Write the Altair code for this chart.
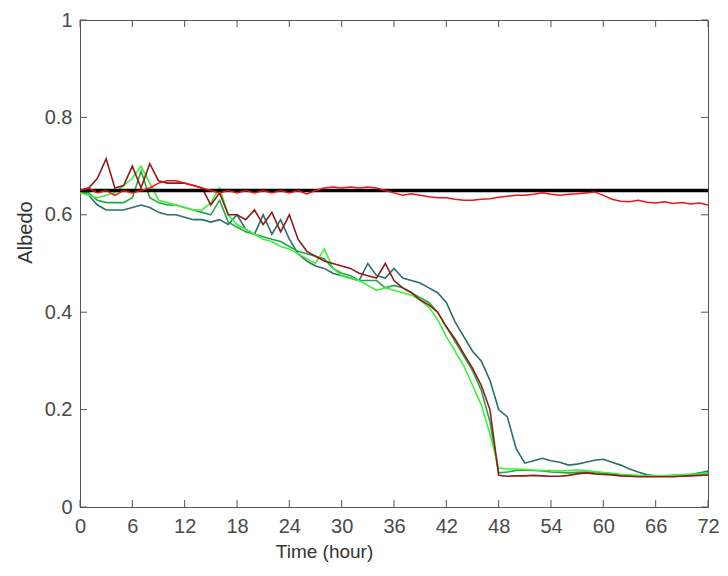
import altair as alt
import pandas as pd

hours = list(range(73))

teal = [0.65, 0.64, 0.62, 0.61, 0.61, 0.61, 0.615, 0.62, 0.615, 0.605,
        0.60, 0.60, 0.595, 0.59, 0.59, 0.585, 0.59, 0.58, 0.60, 0.57,
        0.56, 0.60, 0.56, 0.59, 0.55, 0.52, 0.505, 0.495, 0.49, 0.48,
        0.475, 0.47, 0.465, 0.50, 0.475, 0.47, 0.49, 0.47, 0.465, 0.46,
        0.45, 0.44, 0.42, 0.38, 0.35, 0.32, 0.30, 0.26, 0.20, 0.185,
        0.12, 0.09, 0.095, 0.10, 0.095, 0.092, 0.086, 0.088, 0.092, 0.096,
        0.098, 0.092, 0.086, 0.078, 0.072, 0.066, 0.064, 0.063, 0.063, 0.064,
        0.066, 0.07, 0.074]

green = [0.65, 0.645, 0.63, 0.625, 0.625, 0.625, 0.635, 0.69, 0.635, 0.625,
         0.62, 0.62, 0.615, 0.61, 0.605, 0.60, 0.63, 0.585, 0.575, 0.565,
         0.56, 0.555, 0.55, 0.545, 0.535, 0.525, 0.52, 0.515, 0.51, 0.49,
         0.48, 0.475, 0.465, 0.465, 0.465, 0.45, 0.455, 0.45, 0.44, 0.43,
         0.42, 0.40, 0.37, 0.34, 0.31, 0.28, 0.24, 0.175, 0.07, 0.072,
         0.075, 0.076, 0.075, 0.074, 0.072, 0.071, 0.07, 0.071, 0.072, 0.071,
         0.07, 0.068, 0.066, 0.065, 0.064, 0.064, 0.064, 0.064, 0.065, 0.066,
         0.067, 0.069, 0.071]

lime = [0.645, 0.64, 0.635, 0.64, 0.645, 0.66, 0.675, 0.70, 0.665, 0.63,
        0.625, 0.62, 0.615, 0.61, 0.61, 0.625, 0.655, 0.60, 0.58, 0.57,
        0.56, 0.55, 0.545, 0.535, 0.53, 0.52, 0.51, 0.50, 0.53, 0.49,
        0.475, 0.47, 0.465, 0.455, 0.445, 0.45, 0.445, 0.44, 0.435, 0.425,
        0.41, 0.385, 0.35, 0.32, 0.29, 0.25, 0.21, 0.15, 0.08, 0.078,
        0.078, 0.077, 0.076, 0.075, 0.075, 0.074, 0.075, 0.076, 0.075, 0.073,
        0.071, 0.069, 0.067, 0.066, 0.065, 0.064, 0.064, 0.064, 0.065, 0.066,
        0.067, 0.068, 0.07]

maroon = [0.65, 0.655, 0.675, 0.715, 0.655, 0.66, 0.70, 0.655, 0.705, 0.67,
          0.665, 0.665, 0.665, 0.66, 0.655, 0.62, 0.645, 0.60, 0.60, 0.59,
          0.61, 0.58, 0.605, 0.565, 0.60, 0.55, 0.525, 0.515, 0.505, 0.50,
          0.495, 0.49, 0.48, 0.475, 0.47, 0.50, 0.465, 0.45, 0.44, 0.425,
          0.415, 0.40, 0.37, 0.345, 0.315, 0.285, 0.25, 0.20, 0.065, 0.063,
          0.064, 0.064, 0.065, 0.064, 0.063, 0.063, 0.065, 0.068, 0.07, 0.068,
          0.067, 0.066, 0.064, 0.063, 0.062, 0.062, 0.062, 0.062, 0.062, 0.063,
          0.064, 0.065, 0.066]

red = [0.65, 0.655, 0.645, 0.65, 0.64, 0.65, 0.645, 0.65, 0.655, 0.665,
       0.67, 0.67, 0.665, 0.66, 0.655, 0.65, 0.645, 0.65, 0.645, 0.65,
       0.645, 0.65, 0.645, 0.65, 0.645, 0.65, 0.643, 0.65, 0.655, 0.657,
       0.655, 0.657, 0.655, 0.657, 0.655, 0.65, 0.645, 0.64, 0.643, 0.64,
       0.637, 0.635, 0.635, 0.632, 0.63, 0.63, 0.632, 0.633, 0.636, 0.638,
       0.64, 0.64, 0.642, 0.645, 0.642, 0.64, 0.642, 0.643, 0.645, 0.647,
       0.64, 0.632, 0.628, 0.627, 0.63, 0.626, 0.624, 0.627, 0.623, 0.625,
       0.622, 0.624, 0.62]

black_t = [0, 72]
black_v = [0.65, 0.65]

x_ticks = list(range(0, 73, 6))
y_ticks = [0, 0.2, 0.4, 0.6, 0.8, 1]

W, H = 628, 487
FONT = "Liberation Sans"

x_scale = alt.Scale(domain=[0, 72], nice=False, zero=False)
y_scale = alt.Scale(domain=[0, 1], nice=False, zero=False)

x_axis = alt.Axis(values=x_ticks, title="Time (hour)", labelFlush=False,
                  labelOverlap=False, grid=False, ticks=False,
                  labelPadding=9, titlePadding=6, titleX=244, titleFontSize=19)
y_axis = alt.Axis(values=y_ticks, title="Albedo", labelFlush=False,
                  labelOverlap=False, grid=False, ticks=False,
                  labelPadding=8, titlePadding=9, titleY=212, titleFontSize=20,
                  labelExpr="datum.value == 0 || datum.value == 1 ? format(datum.value, 'd') : format(datum.value, '.1f')")


def X():
    return alt.X("t:Q", scale=x_scale, axis=x_axis)


def Y():
    return alt.Y("v:Q", scale=y_scale, axis=y_axis)


def line(times, vals, color, width):
    df = pd.DataFrame({"t": times, "v": vals})
    return alt.Chart(df).mark_line(color=color, strokeWidth=width, clip=True).encode(
        x=X(), y=Y()
    )


layers = [
    line(hours, teal, "#2a6f6a", 1.6),
    line(hours, green, "#22a843", 1.6),
    line(hours, lime, "#3ff03a", 1.6),
    line(hours, maroon, "#8e1c1c", 1.6),
    line(black_t, black_v, "#000000", 3.5),
    line(hours, red, "#ee1414", 1.5),
]

xt = pd.DataFrame({"t": x_ticks})
yt = pd.DataFrame({"v": y_ticks})
tick_color = "#555555"
layers += [
    alt.Chart(xt).mark_rule(color=tick_color, strokeWidth=1).encode(
        x=X(), y=alt.value(H), y2=alt.value(H - 7)),
    alt.Chart(xt).mark_rule(color=tick_color, strokeWidth=1).encode(
        x=X(), y=alt.value(0), y2=alt.value(7)),
    alt.Chart(yt).mark_rule(color=tick_color, strokeWidth=1).encode(
        y=Y(), x=alt.value(0), x2=alt.value(7)),
    alt.Chart(yt).mark_rule(color=tick_color, strokeWidth=1).encode(
        y=Y(), x=alt.value(W), x2=alt.value(W - 7)),
]

chart = alt.layer(*layers).properties(
    width=W, height=H,
    autosize=alt.AutoSizeParams(type="none"),
    padding={"left": 72, "top": 12, "right": 12, "bottom": 55},
    background="white",
).configure_view(
    stroke="#555555", strokeWidth=1
).configure_axis(
    domainColor="#555555", domainWidth=1,
    labelFont=FONT, labelFontSize=20, labelColor="#4a4a4a",
    titleFont=FONT, titleColor="#333333",
    titleFontWeight="normal",
)

chart.save("out.html", embed_options={"renderer": "svg", "actions": False})
